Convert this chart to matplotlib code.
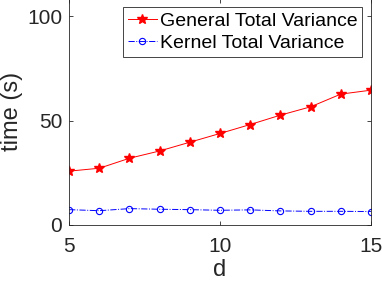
import matplotlib
matplotlib.use('Agg')
import matplotlib.pyplot as plt

plt.rcParams['font.family'] = ['Liberation Sans', 'DejaVu Sans']

d = [5, 6, 7, 8, 9, 10, 11, 12, 13, 14, 15]
general_tv = [25.7, 27.1, 31.9, 35.4, 39.6, 43.8, 48.1, 52.6, 56.6, 62.7, 64.6]
kernel_tv = [7.2, 6.7, 7.7, 7.4, 7.2, 6.9, 7.1, 6.6, 6.4, 6.4, 6.3]

fig = plt.figure(figsize=(3.82, 2.84), dpi=100)
# top edge of the box sits just outside the image, like the reference crop
ax = fig.add_axes([0.181, 0.209, 0.790, 0.796])

ax.plot(d, general_tv, '-*', color='red', lw=0.7, markersize=7,
        label='General Total Variance')
ax.plot(d, kernel_tv, '-.o', color='blue', lw=0.7, markersize=4.5,
        markerfacecolor='none', markeredgewidth=0.8,
        label='Kernel Total Variance')

ax.set_xlim(5, 15)
ax.set_ylim(0, 108.6)
ax.set_xticks([5, 10, 15])
ax.set_yticks([0, 50, 100])
ax.tick_params(direction='in', length=3, width=0.6, labelsize=15,
               colors='0.15', top=True, right=True)
ax.tick_params(axis='x', pad=9)
ax.tick_params(axis='y', pad=5)
for s in ax.spines.values():
    s.set_linewidth(0.6)
    s.set_color('0.15')

ax.set_xlabel('d', fontsize=17, color='0.15', labelpad=2)
ax.set_ylabel('time (s)', fontsize=17, color='0.15', labelpad=3)

leg = ax.legend(loc='upper right', fontsize=14, fancybox=False,
                framealpha=1, edgecolor='0.15', handlelength=1.5,
                handletextpad=0.15, borderpad=0.25, labelspacing=0.22,
                borderaxespad=0.45)
leg.get_frame().set_linewidth(0.6)

fig.savefig('out.png', dpi=100)
